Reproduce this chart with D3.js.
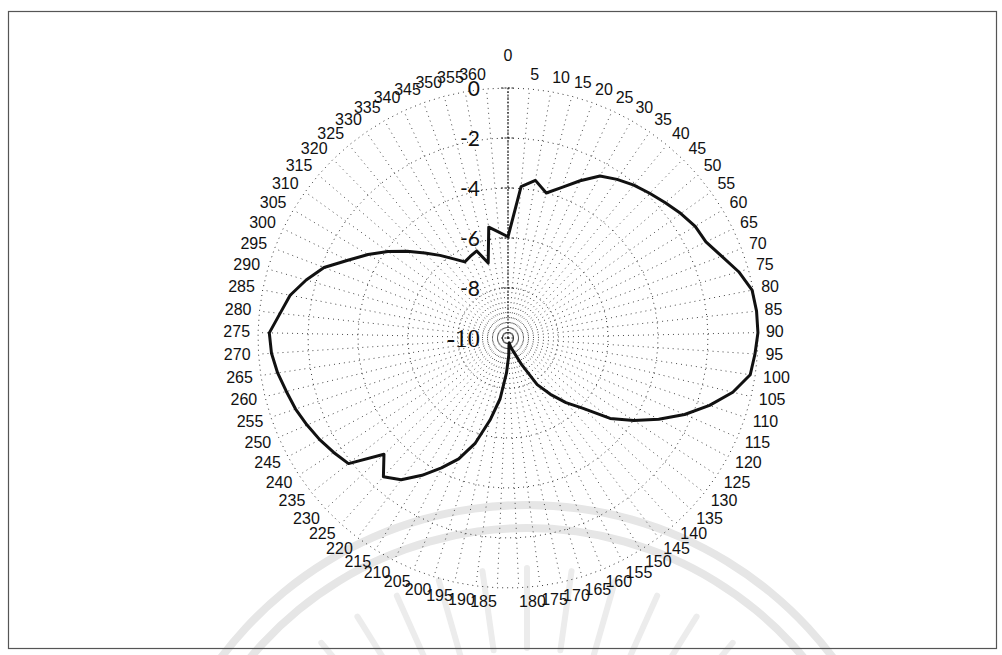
<!DOCTYPE html>
<html><head><meta charset="utf-8">
<script src="https://cdn.jsdelivr.net/npm/d3@7"></script>
<style>html,body{margin:0;padding:0;background:#fff;} svg{display:block}</style>
</head><body>
<svg id="chart" width="1002" height="655"></svg>
<script>
// ---- data ----
const categories = [0,5,10,15,20,25,30,35,40,45,50,55,60,65,70,75,80,85,90,95,100,105,110,115,120,125,130,135,140,145,150,155,160,165,170,175,180,185,190,195,200,205,210,215,220,225,230,235,240,245,250,255,260,265,270,275,280,285,290,295,300,305,310,315,320,325,330,335,340,345,350,355,360];
const gain = [-5.95,-3.92,-3.6,-4.0,-3.6,-3.08,-2.55,-2.3,-2.08,-1.9,-1.7,-1.48,-1.28,-1.2,-0.85,-0.4,-0.05,0,0,-0.1,-0.2,-0.75,-1.5,-2.3,-3.15,-3.98,-4.8,-5.88,-6.53,-7.18,-7.8,-8.8,-9.4,-9.6,-9.8,-9.7,-9.3,-8.6,-7.55,-6.64,-5.6,-4.78,-4.16,-3.52,-2.9,-2.54,-3.2,-1.88,-1.66,-1.44,-1.24,-1.04,-0.88,-0.68,-0.52,-0.45,-0.83,-1.12,-1.6,-2.12,-2.88,-3.48,-4.08,-4.68,-5.24,-5.72,-6.16,-6.5,-6.4,-6.3,-6.9,-5.5,-5.75];
const radialTicks = [-10,-8,-6,-4,-2,0];
const radialTickLabels = ["-10","-8","-6","-4","-2","0"];

// ---- layout ----
const cx = 508, cy = 338, R = 250;
const svg = d3.select("#chart");

const ang = d3.scaleLinear().domain([0, categories.length]).range([0, 2 * Math.PI]);
const rad = d3.scaleLinear().domain([-10, 0]).range([0, R]);

// watermark (faint logo arcs and rays)
const wm = svg.append("g").attr("transform", "translate(527,888)");
[383, 360].forEach(r => {
  wm.append("path")
    .attr("d", d3.arc().innerRadius(r - 4).outerRadius(r + 4).startAngle(-1.1).endAngle(1.1)())
    .attr("fill", "#e6e6e6");
});
d3.range(-56, 57, 8).forEach(deg => {
  const a = deg * Math.PI / 180;
  wm.append("line")
    .attr("x1", 240 * Math.sin(a)).attr("y1", -240 * Math.cos(a))
    .attr("x2", 320 * Math.sin(a)).attr("y2", -320 * Math.cos(a))
    .attr("stroke", "#ececec").attr("stroke-width", 6).attr("stroke-linecap", "round");
});

// frame
svg.append("rect").attr("x", 8.5).attr("y", 11.5).attr("width", 988).attr("height", 637)
  .attr("fill", "none").attr("stroke", "#555").attr("stroke-width", 1.2);

const g = svg.append("g").attr("transform", `translate(${cx},${cy})`);

// rings (polygons through category spokes)
const ringLine = d3.lineRadial().angle((d, i) => ang(i)).radius(d => d).curve(d3.curveLinearClosed);
radialTicks.filter(t => t > -10).forEach(t => {
  g.append("path")
    .attr("d", ringLine(categories.map(() => rad(t))))
    .attr("fill", "none").attr("stroke", "#333").attr("stroke-width", 1)
    .attr("stroke-dasharray", "1 4");
});

// spokes
g.selectAll("line.spoke").data(categories).enter().append("line")
  .attr("class", "spoke")
  .attr("x1", 0).attr("y1", 0)
  .attr("x2", (d, i) => R * Math.sin(ang(i)))
  .attr("y2", (d, i) => -R * Math.cos(ang(i)))
  .attr("stroke", "#333").attr("stroke-width", 0.9)
  .attr("stroke-dasharray", "1 4");

// value axis (vertical)
g.append("line").attr("x1", 0).attr("y1", 0).attr("x2", 0).attr("y2", -rad(0))
  .attr("stroke", "#222").attr("stroke-width", 1.2).attr("stroke-dasharray", "2 1.5");
g.selectAll("line.tick").data(radialTicks).enter().append("line")
  .attr("class", "tick")
  .attr("x1", -7).attr("x2", 7)
  .attr("y1", d => -rad(d)).attr("y2", d => -rad(d))
  .attr("stroke", "#222").attr("stroke-width", 1).attr("stroke-dasharray", "2 1.5");

// data curve
const dataLine = d3.lineRadial().angle((d, i) => ang(i)).radius(d => rad(d)).curve(d3.curveLinearClosed);
g.append("path").attr("d", dataLine(gain))
  .attr("fill", "none").attr("stroke", "#111").attr("stroke-width", 3)
  .attr("stroke-linejoin", "round");

// radial tick labels
g.selectAll("text.rt").data(radialTicks).enter().append("text")
  .attr("class", "rt")
  .attr("x", -28)
  .attr("y", d => -rad(d))
  .attr("dy", d => d === -10 ? "0.36em" : "0.36em")
  .attr("text-anchor", "end")
  .attr("font-family", d => d === -10 ? "'Liberation Serif', serif" : "Lato, 'Liberation Sans', sans-serif")
  .attr("font-size", d => d === -10 ? 25 : 21)
  .attr("fill", "#111")
  .text((d, i) => radialTickLabels[i]);

// category labels
const LR = R + 8;
g.selectAll("text.cat").data(categories).enter().append("text")
  .attr("class", "cat")
  .each(function(d, i) {
    const a = ang(i), s = Math.sin(a), c = Math.cos(a);
    const x = LR * s, y = -LR * c;
    const anchor = Math.abs(s) < 0.01 ? "middle" : (s > 0 ? "start" : "end");
    let base = y + 5 - 6 * c;
    if (Math.abs(s) < 0.01 && c > 0) base -= 18;
    d3.select(this).attr("x", x).attr("y", base).attr("text-anchor", anchor);
  })
  .attr("font-family", "'Liberation Sans', Arial, sans-serif")
  .attr("font-size", 16)
  .attr("fill", "#111")
  .text(d => d);
</script>
</body></html>
